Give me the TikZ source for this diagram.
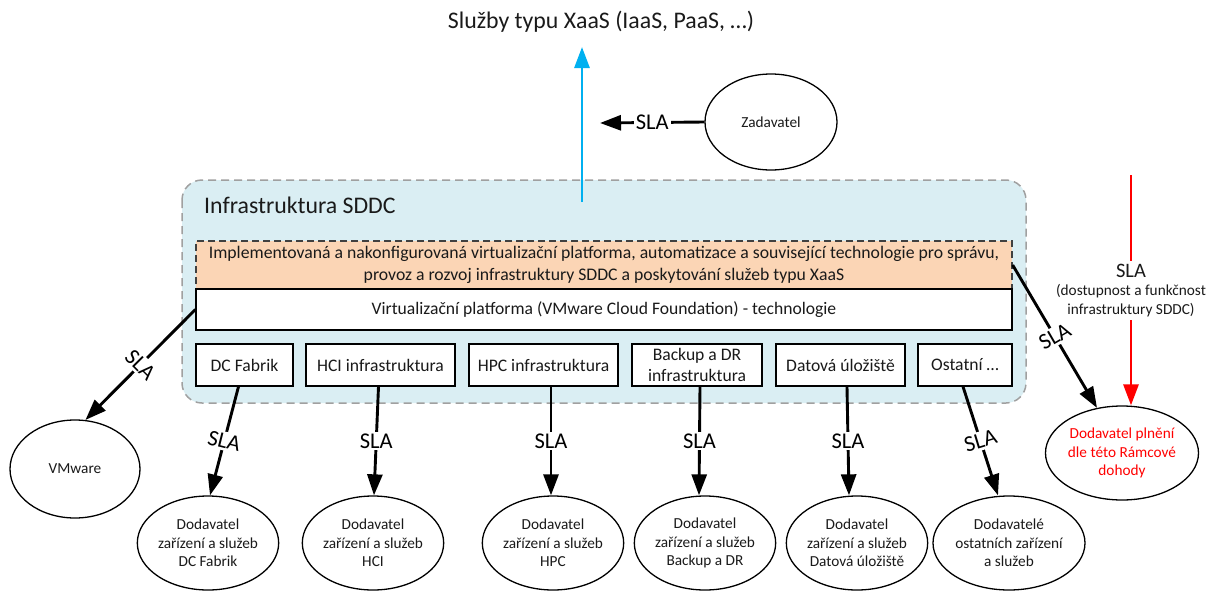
\documentclass[tikz,border=0pt]{standalone}
\usepackage{fontspec}
\setmainfont{Carlito}
\usetikzlibrary{arrows.meta,shapes.geometric,calc}
\definecolor{sddcfill}{HTML}{DAEEF3}
\definecolor{sddcedge}{HTML}{A0A0A0}
\definecolor{mgmtfill}{HTML}{FBD5B5}
\definecolor{mgmtedge}{HTML}{404040}
\definecolor{xaasblue}{HTML}{00B0F0}
\definecolor{slared}{HTML}{FF0000}
\definecolor{ink}{HTML}{1A1A1A}
\tikzset{
  conn/.style={line width=2.9pt, -{Triangle[length=21pt,width=15pt]}},
  slatag/.style={fill=white, inner sep=2pt, text=black, font=\fontsize{22.5}{26}\selectfont},
  unitbox/.style={draw=black, line width=1.2pt, fill=white, align=center, text=ink,
    minimum height=42pt, inner sep=0pt, font=\fontsize{17.6}{20.5}\selectfont},
  party/.style={ellipse, draw=black, line width=1.3pt, fill=white, text=ink,
    minimum width=130pt, minimum height=94pt, inner sep=0pt, align=center,
    font=\fontsize{15.3}{18.5}\selectfont},
}
\begin{document}
\begin{tikzpicture}[x=1pt,y=-1pt]
\useasboundingbox (0,0) rectangle (1216,592);

% SDDC infrastructure container
\draw[draw=sddcedge, line width=1.5pt, dash pattern=on 8pt off 5pt,
      fill=sddcfill, rounded corners=20pt] (182,180) rectangle (1026,403);
\node[anchor=west, inner sep=0pt, text=ink, font=\fontsize{23.8}{27}\selectfont] (sddc) at (204,205) {Infrastruktura SDDC};

% services offered on top
\node[inner sep=0pt, text=ink, font=\fontsize{23.8}{27}\selectfont] (xaas) at (601,22) {Služby typu XaaS (IaaS, PaaS, …)};

% management layer and platform
\node[draw=mgmtedge, dash pattern=on 7pt off 4pt, line width=1.3pt, fill=mgmtfill,
      minimum width=816pt, minimum height=48pt, inner sep=0pt, align=center, text=ink,
      font=\fontsize{17.7}{21.5}\selectfont] (mgmt) at (604,265)
  {Implementovaná a nakonfigurovaná virtualizační platforma, automatizace a související technologie pro správu,\\
   provoz a rozvoj infrastruktury SDDC a poskytování služeb typu XaaS};
\node[unitbox, minimum width=816pt, minimum height=41pt] (vcf) at (604,309.5)
  {Virtualizační platforma (VMware Cloud Foundation) - technologie};

% infrastructure components
\node[unitbox, minimum width=97pt]  (dcb)  at (244.5,365) {DC Fabrik};
\node[unitbox, minimum width=149pt] (hcib) at (380.5,365) {HCI infrastruktura};
\node[unitbox, minimum width=149pt] (hpcb) at (543.5,365) {HPC infrastruktura};
\node[unitbox, minimum width=130pt] (bkb)  at (697,365)   {Backup a DR\\infrastruktura};
\node[unitbox, minimum width=129pt] (datb) at (840.5,365) {Datová úložiště};
\node[unitbox, minimum width=94pt]  (ostb) at (965,365)   {Ostatní …};

% parties
\node[party, minimum width=132pt, minimum height=96pt] (zad) at (771,122) {Zadavatel};
\node[party, minimum height=98pt] (vmw) at (75,469) {VMware};
\node[party, text=slared] (rmc) at (1122,453) {Dodavatel plnění\\dle této Rámcové\\dohody};
\node[party] (dcv)  at (208,543)  {Dodavatel\\zařízení a služeb\\DC Fabrik};
\node[party] (hciv) at (373,543)  {Dodavatel\\zařízení a služeb\\HCI};
\node[party] (hpcv) at (553,543)  {Dodavatel\\zařízení a služeb\\HPC};
\node[party] (bkv)  at (705,543)  {Dodavatel\\zařízení a služeb\\Backup a DR};
\node[party] (datv) at (857,543)  {Dodavatel\\zařízení a služeb\\Datová úložiště};
\node[party] (ostv) at (1009,543) {Dodavatelé\\ostatních zařízení\\a služeb};

% service flow upwards
\coordinate (up0) at (582,202);
\coordinate (up1) at (582,47);
\draw[conn, draw=xaasblue] (up0) -- (up1);

\coordinate (zadtip) at (600,123);
\draw[conn] (zad.west) -- node[slatag]{SLA} (zadtip);

% SLAs towards suppliers
\draw[conn] (vcf.west) -- node[slatag, rotate=-45]{SLA} (vmw.78);
\draw[conn] ($(dcb.south)+(-6,0)$) -- node[slatag, rotate=-14]{SLA} ($(dcv.north)+(2,0)$);
\draw[conn] ($(hcib.south)+(-2,0)$) -- node[slatag]{SLA} ($(hciv.north)+(1,0)$);
\draw[conn] ($(hpcb.south)+(7.5,0)$) -- node[slatag]{SLA} ($(hpcv.north)+(-2,0)$);
\draw[conn] ($(bkb.south)+(3,0)$) -- node[slatag]{SLA} ($(bkv.north)+(-6,0)$);
\draw[conn] ($(datb.south)+(6.5,0)$) -- node[slatag]{SLA} ($(datv.north)+(-8,0)$);
\draw[conn] ($(ostb.south)+(-2,0)$) -- node[slatag, rotate=17]{SLA} ($(ostv.north)+(-11,0)$);
\draw[conn] (mgmt.east) -- node[slatag, rotate=30]{SLA} (rmc.119);

% framework agreement SLA
\coordinate (redtop) at (1131,175);
\draw[conn, draw=slared] (redtop) --
  node[fill=white, inner sep=3pt, align=center, text=ink, font=\fontsize{15.3}{18.5}\selectfont]
  {{\fontsize{20.5}{22}\selectfont SLA}\\(dostupnost a funkčnost\\infrastruktury SDDC)}
  ($(rmc.north)+(9,0)$);
\end{tikzpicture}
\end{document}
